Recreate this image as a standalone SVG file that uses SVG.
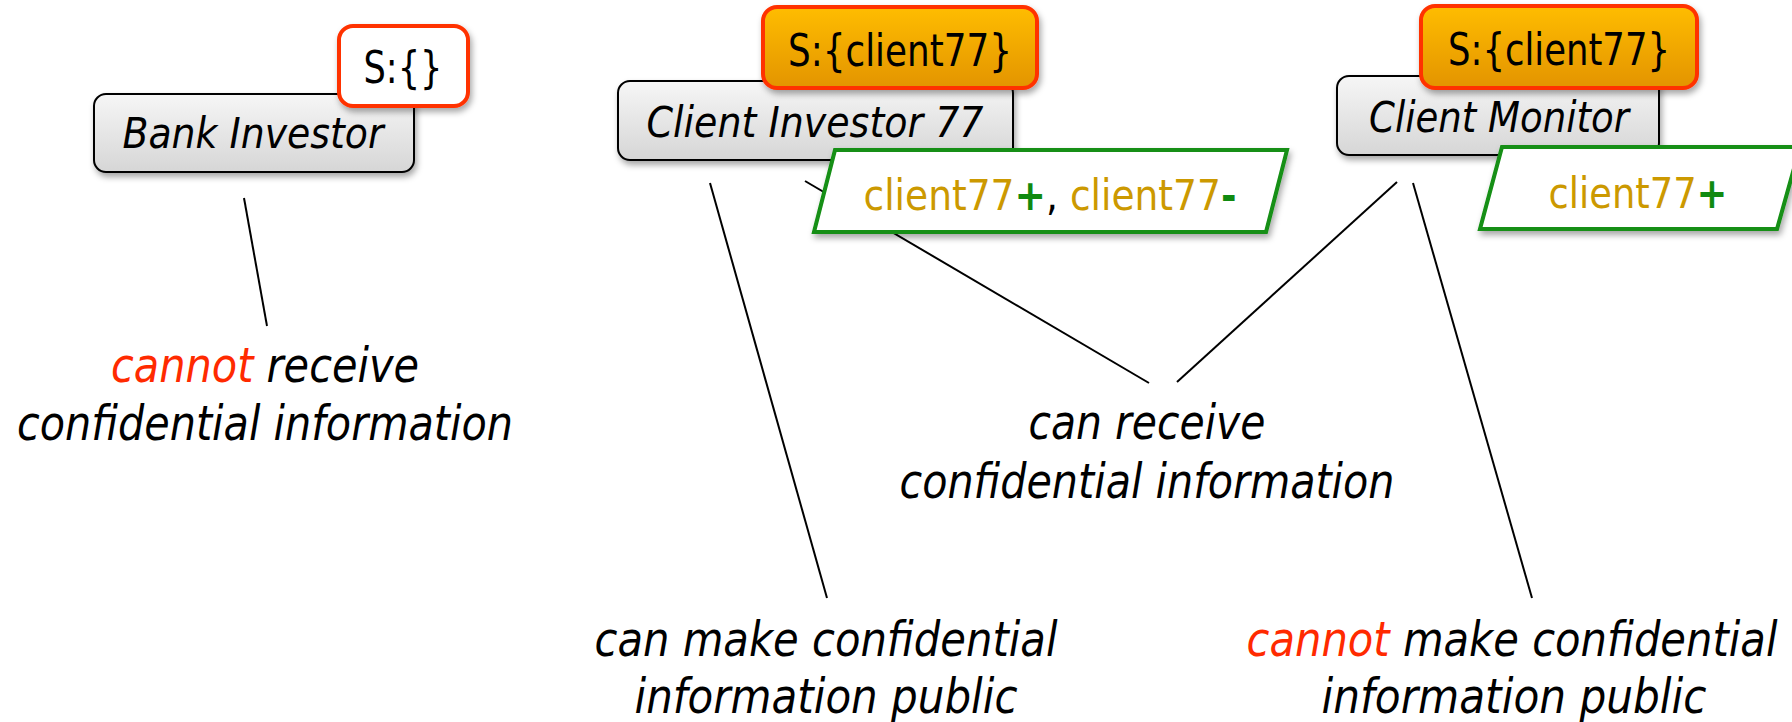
<svg xmlns="http://www.w3.org/2000/svg" width="1792" height="722" viewBox="0 0 1792 722">
<style>
.t{font-family:"DejaVu Sans","Liberation Sans",sans-serif;}
.lbl{font-family:"DejaVu Sans","Liberation Sans",sans-serif;font-style:italic;font-size:48px;fill:#000;text-anchor:middle;}
.node{font-family:"DejaVu Sans","Liberation Sans",sans-serif;font-style:italic;font-size:42px;fill:#000;text-anchor:middle;}
.tagt{font-family:"DejaVu Sans","Liberation Sans",sans-serif;font-size:44px;fill:#000;text-anchor:middle;}
.pt{font-family:"DejaVu Sans","Liberation Sans",sans-serif;font-size:42px;text-anchor:middle;}
.gold{fill:#cc9900;}
.plus{fill:#108a10;font-weight:bold;}
.red{fill:#ff2a00;}
.box{fill:url(#gbox);stroke:#000;stroke-width:2;}
.tagw{fill:#fff;stroke:#ff3300;stroke-width:4;}
.tago{fill:url(#gorange);stroke:#ff3300;stroke-width:4;}
.para{fill:#fff;stroke:#128f12;stroke-width:4;stroke-linejoin:miter;}
.conn line{stroke:#000;stroke-width:2;}
</style>
<defs>
<linearGradient id="gbox" x1="0" y1="0" x2="0" y2="1">
<stop offset="0" stop-color="#f6f6f6"/>
<stop offset="1" stop-color="#d6d6d6"/>
</linearGradient>
<linearGradient id="gorange" x1="0" y1="0" x2="0" y2="1">
<stop offset="0" stop-color="#ffbd00"/>
<stop offset="1" stop-color="#e39400"/>
</linearGradient>
<filter id="sh" x="-10%" y="-20%" width="125%" height="150%">
<feDropShadow dx="2" dy="4" stdDeviation="3" flood-color="#000" flood-opacity="0.35"/>
</filter>
</defs>
<rect width="1792" height="722" fill="#fff"/>

<g id="connectors" class="conn">
<line x1="244" y1="198" x2="267" y2="326"/>
<line x1="710" y1="183" x2="827" y2="598"/>
<line x1="805" y1="181" x2="1149" y2="383"/>
<line x1="1397" y1="182" x2="1177" y2="382"/>
<line x1="1413" y1="183" x2="1532" y2="598"/>
</g>

<g id="bank-investor">
<rect class="box" x="94" y="94" width="320" height="78" rx="12" filter="url(#sh)"/>
<text class="node" x="253" y="148" textLength="261" lengthAdjust="spacingAndGlyphs">Bank Investor</text>
<rect class="tagw" x="339" y="26" width="129" height="80" rx="14" filter="url(#sh)"/>
<text class="tagt" x="403" y="83" textLength="79" lengthAdjust="spacingAndGlyphs">S:{}</text>
</g>

<g id="client-investor-77">
<rect class="box" x="618" y="81" width="395" height="79" rx="12" filter="url(#sh)"/>
<text class="node" x="815" y="137" textLength="337" lengthAdjust="spacingAndGlyphs">Client Investor 77</text>
<rect class="tago" x="763" y="7" width="274" height="81" rx="14" filter="url(#sh)"/>
<text class="tagt" x="900" y="66" textLength="224" lengthAdjust="spacingAndGlyphs">S:{client77}</text>
<polygon class="para" points="835,150 1287,150 1266,232 814,232" filter="url(#sh)"/>
<text class="pt" x="1050" y="210" textLength="373" lengthAdjust="spacingAndGlyphs"><tspan class="gold">client77</tspan><tspan class="plus">+</tspan><tspan fill="#000">, </tspan><tspan class="gold">client77</tspan><tspan class="plus">-</tspan></text>
</g>

<g id="client-monitor">
<rect class="box" x="1337" y="76" width="322" height="79" rx="12" filter="url(#sh)"/>
<text class="node" x="1499" y="132" textLength="260" lengthAdjust="spacingAndGlyphs">Client Monitor</text>
<rect class="tago" x="1421" y="6" width="276" height="82" rx="14" filter="url(#sh)"/>
<text class="tagt" x="1559" y="65" textLength="222" lengthAdjust="spacingAndGlyphs">S:{client77}</text>
<polygon class="para" points="1502,147 1800,147 1777,229 1480,229" filter="url(#sh)"/>
<text class="pt" x="1638" y="208" textLength="179" lengthAdjust="spacingAndGlyphs"><tspan class="gold">client77</tspan><tspan class="plus">+</tspan></text>
</g>

<g id="label-cannot-receive">
<text class="lbl" x="265" y="382" textLength="308" lengthAdjust="spacingAndGlyphs"><tspan class="red">cannot</tspan> receive</text>
<text class="lbl" x="265" y="440" textLength="496" lengthAdjust="spacingAndGlyphs">confidential information</text>
</g>

<g id="label-can-receive">
<text class="lbl" x="1147" y="439" textLength="237" lengthAdjust="spacingAndGlyphs">can receive</text>
<text class="lbl" x="1147" y="498" textLength="495" lengthAdjust="spacingAndGlyphs">confidential information</text>
</g>

<g id="label-can-make-public">
<text class="lbl" x="826" y="656" textLength="463" lengthAdjust="spacingAndGlyphs">can make confidential</text>
<text class="lbl" x="826" y="713" textLength="383" lengthAdjust="spacingAndGlyphs">information public</text>
</g>

<g id="label-cannot-make-public">
<text class="lbl" x="1512" y="656" textLength="531" lengthAdjust="spacingAndGlyphs"><tspan class="red">cannot</tspan> make confidential</text>
<text class="lbl" x="1514" y="713" textLength="385" lengthAdjust="spacingAndGlyphs">information public</text>
</g>
</svg>
